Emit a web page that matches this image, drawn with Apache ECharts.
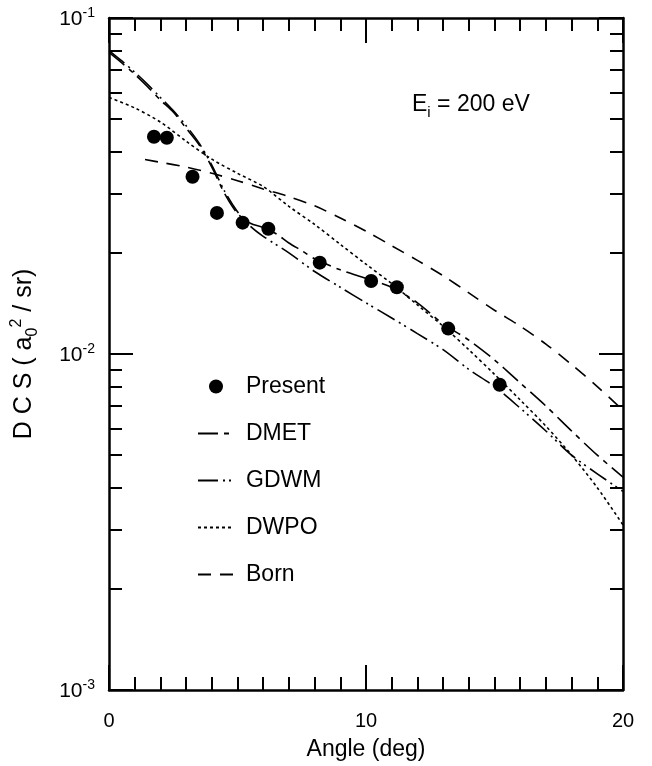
<!DOCTYPE html>
<html><head><meta charset="utf-8">
<script src="https://cdn.jsdelivr.net/npm/echarts@6/dist/echarts.min.js"></script>
<style>html,body{margin:0;padding:0;background:#fff}#c{width:652px;height:766px}</style>
</head><body><div id="c"></div>
<script>
// ---- data ----
const presentAngles = [1.75, 2.25, 3.25, 4.2, 5.2, 6.2, 8.2, 10.2, 11.2, 13.2, 15.2];
const presentValues = [0.0443, 0.0440, 0.0337, 0.0263, 0.0246, 0.0236, 0.0187, 0.0165, 0.0158, 0.0119, 0.0081];

const dmetAngles = [0, 0.5, 1, 1.5, 2, 2.5, 3, 3.5, 4, 4.5, 5, 5.5, 6, 6.5, 7, 7.5, 8, 9, 10, 11, 12, 13, 14, 15, 16, 17, 18, 19, 20];
const dmetValues = [0.079, 0.0735, 0.068, 0.0625, 0.057, 0.0525, 0.047, 0.042, 0.036, 0.030, 0.0262, 0.0245, 0.0238, 0.0228, 0.0214, 0.0203, 0.0192, 0.0178, 0.0168, 0.0158, 0.0142, 0.0123, 0.0110, 0.0096, 0.0082, 0.0070, 0.0059, 0.0050, 0.0043];

const gdwmAngles = [0, 0.5, 1, 1.5, 2, 2.5, 3, 3.5, 4, 4.5, 5, 5.5, 6, 7, 8, 9, 10, 11, 12, 13, 14, 15, 16, 17, 18, 19, 20];
const gdwmValues = [0.080, 0.0745, 0.069, 0.0635, 0.058, 0.053, 0.0478, 0.0425, 0.0365, 0.0305, 0.0265, 0.0240, 0.0224, 0.0200, 0.0176, 0.0158, 0.0142, 0.0128, 0.0115, 0.0103, 0.0090, 0.0080, 0.0069, 0.0059, 0.0050, 0.0044, 0.0039];

const dwpoAngles = [0, 1, 2, 3, 4, 5, 6, 7, 8, 9, 10, 11, 12, 13, 14, 15, 16, 17, 18, 19, 20];
const dwpoValues = [0.058, 0.054, 0.049, 0.043, 0.038, 0.0345, 0.0315, 0.0275, 0.0243, 0.0212, 0.0185, 0.0162, 0.0140, 0.0121, 0.0103, 0.0087, 0.0073, 0.0061, 0.0050, 0.0040, 0.0031];

const bornAngles = [1.4, 2, 3, 4, 5, 6, 7, 8, 9, 10, 11, 12, 13, 14, 15, 16, 17, 18, 19, 20];
const bornValues = [0.0379, 0.0372, 0.0360, 0.0345, 0.0328, 0.0310, 0.0294, 0.0276, 0.0254, 0.0232, 0.0210, 0.0190, 0.0171, 0.0152, 0.0135, 0.0121, 0.0107, 0.0093, 0.0080, 0.0068];

const seriesNames = ['Present', 'DMET', 'GDWM', 'DWPO', 'Born'];
const xTickLabels = [0, 10, 20];
const yMajorTicks = [0.001, 0.01, 0.1];
const yMinorTicks = [0.002,0.003,0.004,0.005,0.006,0.007,0.008,0.009,0.02,0.03,0.04,0.05,0.06,0.07,0.08,0.09];
const energyLabel = '{b|E}{sub|i}{b| = 200 eV}';

// ---- chart ----
const FONT = '"Liberation Sans", Arial, Helvetica, sans-serif';
const BLACK = '#000';
const pair = (xs, ys) => xs.map((x, i) => [x, ys[i]]);

function xAxisDef(pos, labels) {
  return {
    type: 'value', position: pos, min: 0, max: 20, interval: 10,
    gridIndex: 0,
    axisLine: { show: true, onZero: false, lineStyle: { color: BLACK, width: 2.5 } },
    axisTick: { show: true, inside: true, length: 25, lineStyle: { color: BLACK, width: 2 } },
    minorTick: { show: true, splitNumber: 10, length: 13, lineStyle: { color: BLACK, width: 2 } },
    splitLine: { show: false }, minorSplitLine: { show: false },
    axisLabel: labels ? {
      show: true, fontSize: 20, color: BLACK, fontFamily: FONT, margin: 21,
      formatter: v => xTickLabels.indexOf(v) >= 0 ? String(v) : ''
    } : { show: false },
    name: labels ? 'Angle (deg)' : '',
    nameLocation: 'middle', nameGap: 48,
    nameTextStyle: { fontSize: 23, color: BLACK, fontFamily: FONT }
  };
}
function yAxisDef(pos, major, labels) {
  const a = {
    type: 'log', logBase: 10, position: pos, min: 0.001, max: 0.1,
    axisLine: { show: major, onZero: false, lineStyle: { color: BLACK, width: 2.5 } },
    axisTick: { show: true, inside: true, length: major ? 24 : 13,
      customValues: major ? yMajorTicks : yMinorTicks,
      lineStyle: { color: BLACK, width: 2 } },
    splitLine: { show: false },
    axisLabel: { show: false }
  };
  if (labels) {
    a.axisLabel = {
      show: true, margin: 14, customValues: yMajorTicks,
      formatter: v => '{b|10}{sup|' + Math.round(Math.log10(v)) + '}',
      rich: {
        b: { fontSize: 21, color: BLACK, fontFamily: FONT, verticalAlign: 'bottom' },
        sup: { fontSize: 14, color: BLACK, fontFamily: FONT, verticalAlign: 'bottom', padding: [0, 0, 9, 0] }
      }
    };
    a.name = '{b|D C S ( a}{sub|0}{sup|2}{b| / sr)}';
    a.nameLocation = 'middle';
    a.nameRotate = 90;
    a.nameGap = 68;
    a.nameTextStyle = {
      rich: {
        b: { fontSize: 25, color: BLACK, fontFamily: FONT, verticalAlign: 'bottom', padding: [0, 0, 4, 0] },
        sub: { fontSize: 16, color: BLACK, fontFamily: FONT, verticalAlign: 'bottom' },
        sup: { fontSize: 16, color: BLACK, fontFamily: FONT, verticalAlign: 'bottom', padding: [0, 0, 16, 0] }
      }
    };
  }
  return a;
}

const chart = echarts.init(document.getElementById('c'), null, { renderer: 'canvas' });
chart.setOption({
  animation: false,
  backgroundColor: '#fff',
  textStyle: { fontFamily: FONT },
  grid: { left: 109, top: 18, width: 514, height: 673, containLabel: false },
  title: {
    text: energyLabel, left: 407, top: 88,
    textStyle: {
      fontWeight: 'normal',
      rich: {
        b: { fontSize: 23, fontWeight: 'normal', color: BLACK, fontFamily: FONT, verticalAlign: 'bottom', padding: [0, 0, 4, 0] },
        sub: { fontSize: 15, fontWeight: 'normal', color: BLACK, fontFamily: FONT, verticalAlign: 'bottom' }
      }
    }
  },
  legend: {
    data: seriesNames.map((n, i) => i === 0 ? { name: n } : { name: n, itemStyle: { opacity: 0 } }),
    orient: 'vertical', left: 192, top: 370,
    itemWidth: 36, itemHeight: 14, itemGap: 24,
    textStyle: { fontSize: 23, color: BLACK, fontFamily: FONT, padding: [0, 0, 0, 7] },
    selectedMode: false
  },
  xAxis: [xAxisDef('bottom', true), xAxisDef('top', false)],
  yAxis: [yAxisDef('left', true, true), yAxisDef('left', false, false), yAxisDef('right', true, false), yAxisDef('right', false, false)],
  series: [
    { name: 'Present', type: 'scatter', data: pair(presentAngles, presentValues), symbol: 'circle', symbolSize: 14,
      itemStyle: { color: BLACK, opacity: 1 }, z: 5 },
    { name: 'DMET', type: 'line', data: pair(dmetAngles, dmetValues), symbol: 'none', smooth: 0.3,
      lineStyle: { color: BLACK, width: 1.6, type: [20, 6, 5, 6] }, itemStyle: { color: BLACK } },
    { name: 'GDWM', type: 'line', data: pair(gdwmAngles, gdwmValues), symbol: 'none', smooth: 0.3,
      lineStyle: { color: BLACK, width: 1.6, type: [20, 5, 2, 4, 2, 5] }, itemStyle: { color: BLACK } },
    { name: 'DWPO', type: 'line', data: pair(dwpoAngles, dwpoValues), symbol: 'none', smooth: 0.3,
      lineStyle: { color: BLACK, width: 1.6, type: [3, 3] }, itemStyle: { color: BLACK } },
    { name: 'Born', type: 'line', data: pair(bornAngles, bornValues), symbol: 'none', smooth: 0.3,
      lineStyle: { color: BLACK, width: 1.6, type: [13, 9] }, itemStyle: { color: BLACK } }
  ]
});
</script></body></html>
